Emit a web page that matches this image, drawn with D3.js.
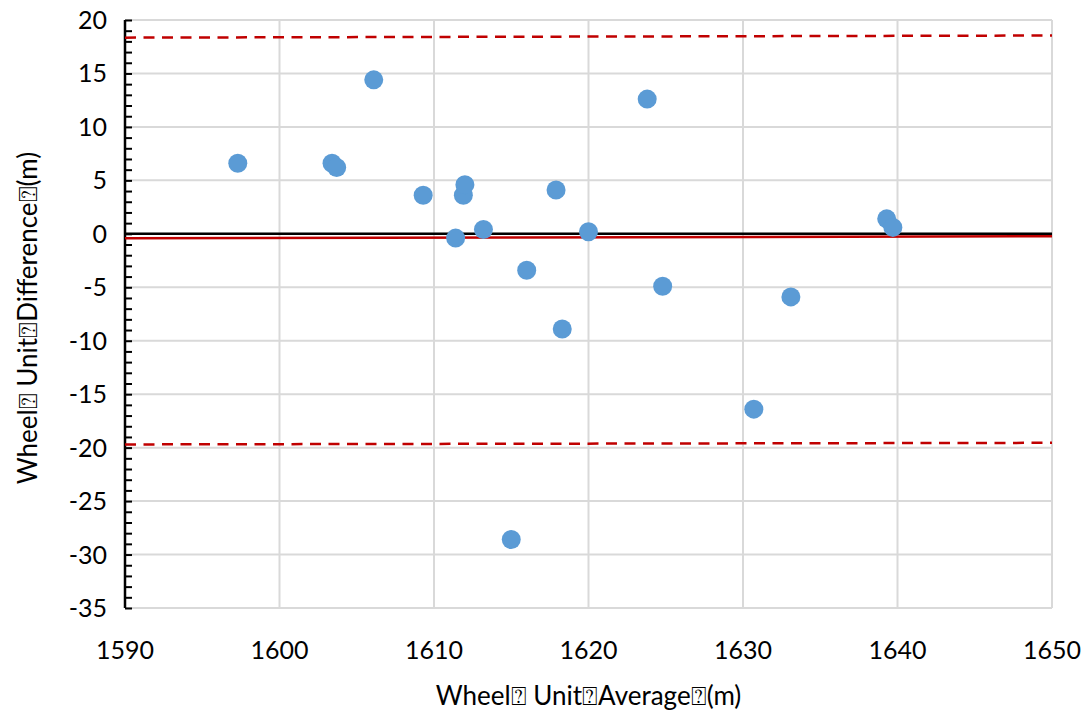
<!DOCTYPE html>
<html>
<head>
<meta charset="utf-8">
<script src="https://cdn.jsdelivr.net/npm/d3@7"></script>
<style>
  body { margin: 0; background: #fff; }
  svg text { font-family: Lato, "Open Sans", sans-serif; fill: #000; }
</style>
</head>
<body>
<div id="chart"></div>
<script>
// Bland-Altman style scatter: average vs difference
const avgValues = [1597.3, 1603.4, 1603.7, 1606.1, 1609.3, 1611.4, 1611.9, 1612.0, 1613.2, 1615.0,
                   1616.0, 1617.9, 1618.3, 1620.0, 1623.8, 1624.8, 1630.7, 1633.1, 1639.3, 1639.7];
const diffValues = [6.6, 6.6, 6.2, 14.4, 3.6, -0.4, 3.6, 4.6, 0.4, -28.6,
                    -3.4, 4.1, -8.9, 0.2, 12.6, -4.9, -16.4, -5.9, 1.4, 0.6];

// reference lines, drawn end to end across the plot
const lineX = [1590, 1650];
const meanLine = [-0.42, -0.23];
const upperLimit = [18.35, 18.55];
const lowerLimit = [-19.7, -19.55];

const xTicks = [1590, 1600, 1610, 1620, 1630, 1640, 1650];
const yTicks = [20, 15, 10, 5, 0, -5, -10, -15, -20, -25, -30, -35];

const xTitle = "Wheel\u2370 Unit\u2370Average\u2370(m)";
const yTitle = "Wheel\u2370 Unit\u2370Difference\u2370(m)";

const width = 1092, height = 717;
const margin = {top: 20, right: 40, bottom: 109, left: 125};

const svg = d3.select("#chart").append("svg")
    .attr("width", width)
    .attr("height", height);

const x = d3.scaleLinear().domain([1590, 1650]).range([margin.left, width - margin.right]);
const y = d3.scaleLinear().domain([-35, 20]).range([height - margin.bottom, margin.top]);

// gridlines
svg.append("g")
    .selectAll("line")
    .data(xTicks)
    .join("line")
    .attr("x1", d => x(d)).attr("x2", d => x(d))
    .attr("y1", y(20)).attr("y2", y(-35))
    .attr("stroke", "#d9d9d9").attr("stroke-width", 2);

svg.append("g")
    .selectAll("line")
    .data(yTicks)
    .join("line")
    .attr("x1", x(1590)).attr("x2", x(1650))
    .attr("y1", d => y(d)).attr("y2", d => y(d))
    .attr("stroke", "#d9d9d9").attr("stroke-width", 2);

// horizontal axis line at zero
svg.append("line")
    .attr("x1", x(1590)).attr("x2", x(1650))
    .attr("y1", y(0)).attr("y2", y(0))
    .attr("stroke", "#000").attr("stroke-width", 2.5);

// x tick labels (sit below the plot)
svg.append("g")
    .selectAll("text")
    .data(xTicks)
    .join("text")
    .attr("x", d => x(d))
    .attr("y", y(-35) + 51)
    .attr("text-anchor", "middle")
    .attr("font-size", "25px")
    .text(d => d);

// y axis with minor ticks every 1 unit
const yAxis = d3.axisRight(y)
    .tickValues(d3.range(-35, 21, 1))
    .tickSize(7)
    .tickFormat("");
const yg = svg.append("g")
    .attr("transform", `translate(${x(1590)},0)`)
    .call(yAxis);
yg.select(".domain").attr("stroke", "#000").attr("stroke-width", 2.5).attr("d", `M0,${y(20)}V${y(-35)}`);
yg.selectAll(".tick line").attr("stroke", "#000").attr("stroke-width", 2);

svg.append("g")
    .selectAll("text")
    .data(yTicks)
    .join("text")
    .attr("x", x(1590) - 18)
    .attr("y", d => y(d) + 9)
    .attr("text-anchor", "end")
    .attr("font-size", "25px")
    .text(d => d);

// reference lines
const line = d3.line().x(d => x(d[0])).y(d => y(d[1]));

svg.append("path")
    .datum(lineX.map((v, i) => [v, upperLimit[i]]))
    .attr("d", line)
    .attr("fill", "none").attr("stroke", "#c00000")
    .attr("stroke-width", 2.5).attr("stroke-dasharray", "11,7.5");

svg.append("path")
    .datum(lineX.map((v, i) => [v, lowerLimit[i]]))
    .attr("d", line)
    .attr("fill", "none").attr("stroke", "#c00000")
    .attr("stroke-width", 2.5).attr("stroke-dasharray", "11,7.5");

svg.append("path")
    .datum(lineX.map((v, i) => [v, meanLine[i]]))
    .attr("d", line)
    .attr("fill", "none").attr("stroke", "#c00000")
    .attr("stroke-width", 2.5);

// points
svg.append("g")
    .selectAll("circle")
    .data(avgValues.map((v, i) => ({x: v, y: diffValues[i]})))
    .join("circle")
    .attr("cx", d => x(d.x))
    .attr("cy", d => y(d.y))
    .attr("r", 9.5)
    .attr("fill", "#5b9bd5");

// axis titles
svg.append("text")
    .attr("x", (x(1590) + x(1650)) / 2)
    .attr("y", 705)
    .attr("text-anchor", "middle")
    .attr("font-size", "26px")
    .text(xTitle);

svg.append("text")
    .attr("transform", "rotate(-90)")
    .attr("x", -318)
    .attr("y", 37)
    .attr("text-anchor", "middle")
    .attr("font-size", "26px")
    .text(yTitle);
</script>
</body>
</html>
